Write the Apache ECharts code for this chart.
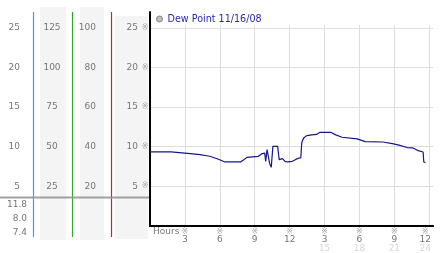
<!DOCTYPE html>
<html><head><meta charset="utf-8">
<script src="https://cdn.jsdelivr.net/npm/echarts@6/dist/echarts.min.js"></script>
<style>html,body{margin:0;padding:0;background:#fff}#c{width:442px;height:253px}</style>
</head><body><div id="c"></div>
<script>
// ---- data ----
const seriesName = 'Dew Point 11/16/08';
const hours = [0, 1.8, 1.9, 3.47, 3.6, 4.3, 5.14, 5.83, 6.44, 7.78, 8.06, 8.33, 9.31, 9.58, 9.86, 9.94, 10.06, 10.17, 10.28, 10.42, 10.56, 10.97, 11.1, 11.19, 11.39, 11.6, 11.8, 12.22, 12.5, 12.78, 12.96, 13.04, 13.2, 13.47, 13.9, 14.3, 14.58, 15.56, 15.97, 16.5, 17.8, 18.5, 20.0, 20.83, 21.4, 22.1, 22.6, 23.06, 23.47, 23.53, 23.67];
const dewPoint = [9.34, 9.34, 9.13, 9.13, 9.0, 9.0, 8.8, 8.46, 8.08, 8.08, 8.37, 8.66, 8.79, 9.09, 9.2, 8.16, 9.63, 9.7, 7.9, 7.4, 10.05, 10.05, 8.37, 8.16, 8.5, 8.16, 8.08, 8.16, 8.37, 8.57, 8.6, 10.5, 11.1, 11.4, 11.5, 11.55, 11.8, 11.8, 11.5, 11.2, 11.0, 10.65, 10.6, 10.4, 10.2, 9.9, 9.85, 9.5, 9.34, 8.08, 8.0];
const statLabels = ['11.8', '8.0', '7.4'];          // max, current, min
const xAxisName = 'Hours';
const leftScaleFactors = [1, 5, 4, 1];               // column scales: 0-25, 0-125, 0-100, 0-25

// ---- styles ----
const FONT = 'DejaVu Sans';
const LBL = '#777';
const MARK = '#a8a8a8';
const yMax = 27, xMax = 24.33;

const chart = echarts.init(document.getElementById('c'), null, {renderer: 'canvas'});

function colAxis(factor, offset, align) {
  return {
    type: 'value', position: 'left', offset: offset,
    min: 0, max: yMax * factor, interval: 5 * factor,
    axisLine: {show: false}, axisTick: {show: false}, splitLine: {show: false},
    axisLabel: {show: true, margin: 0, align: align, showMinLabel: false, showMaxLabel: false,
      color: LBL, fontSize: 9, fontFamily: FONT, padding: [0, 0, 2, 0]}
  };
}

const xRich = {
  m: {fontSize: 8, lineHeight: 7, color: MARK, fontFamily: FONT},
  a: {fontSize: 9, lineHeight: 9, color: LBL, fontFamily: FONT},
  b: {fontSize: 9, lineHeight: 9, color: '#d6d6d6', fontFamily: FONT},
  me: {fontSize: 8, lineHeight: 7, color: MARK, fontFamily: FONT, padding: [0, 8, 0, 0]},
  ae: {fontSize: 9, lineHeight: 9, color: LBL, fontFamily: FONT, padding: [0, 8, 0, 0]},
  be: {fontSize: 9, lineHeight: 9, color: '#d6d6d6', fontFamily: FONT, padding: [0, 8, 0, 0]}
};

const ySplitColors = ['#ddd', '#ddd', '#ddd', '#ddd', '#ddd', '#ddd', 'rgba(0,0,0,0)'];
const xSplitColors = ['#ddd', '#ddd', '#ddd', '#ddd', '#ddd', '#ddd', '#ddd', '#ddd', '#ddd', 'rgba(0,0,0,0)'];

const option = {
  animation: false,
  backgroundColor: '#fff',
  grid: {left: 150, right: 0, top: 12, bottom: 27, containLabel: false},
  legend: {
    data: [seriesName], left: 156, top: 14, icon: 'circle', itemWidth: 6, itemHeight: 6,
    itemStyle: {color: '#c0c0c0', borderColor: '#888', borderWidth: 1},
    textStyle: {color: '#2a2aaa', fontSize: 9.6, fontFamily: FONT}, padding: 0
  },
  xAxis: {
    type: 'value', min: 0, max: xMax, interval: 3,
    axisLine: {show: true, lineStyle: {color: '#000', width: 2}},
    axisTick: {show: false},
    splitLine: {show: true, lineStyle: {color: xSplitColors, width: 1}},
    axisLabel: {
      show: true, margin: 2, showMinLabel: false, showMaxLabel: false, rich: xRich,
      formatter: function (v) {
        if (v <= 0 || v > 24.01) return '';
        const h = v > 12 ? v - 12 : v;
        const e = v === 24 ? 'e' : '';
        return '{m' + e + '|※}\n{a' + e + '|' + h + '}\n{b' + e + '|' + (v > 12 ? v : ' ') + '}';
      }
    }
  },
  yAxis: [
    {
      type: 'value', position: 'left', min: 0, max: yMax, interval: 5,
      axisLine: {show: true, lineStyle: {color: '#000', width: 2}},
      axisTick: {show: false},
      splitLine: {show: true, lineStyle: {color: ySplitColors, width: 1}},
      axisLabel: {show: true, margin: 1.5, showMinLabel: false, showMaxLabel: false,
        formatter: () => '※', color: MARK, fontSize: 8, fontFamily: FONT}
    },
    colAxis(leftScaleFactors[3], 12, 'right'),
    colAxis(leftScaleFactors[2], 54, 'right'),
    colAxis(leftScaleFactors[1], 98, 'center'),
    colAxis(leftScaleFactors[0], 130, 'right')
  ],
  graphic: [
    {type: 'rect', z: -1, shape: {x: 40, y: 7, width: 26, height: 233}, style: {fill: '#f4f4f4'}},
    {type: 'rect', z: -1, shape: {x: 80, y: 7, width: 24, height: 233}, style: {fill: '#f4f4f4'}},
    {type: 'rect', z: -1, shape: {x: 115, y: 16, width: 33, height: 223}, style: {fill: '#f4f4f4'}},
    {type: 'line', z: 1, shape: {x1: 33.5, y1: 12, x2: 33.5, y2: 237}, style: {stroke: '#22b0dc', lineWidth: 1.2}},
    {type: 'line', z: 1, shape: {x1: 72.5, y1: 12, x2: 72.5, y2: 237}, style: {stroke: '#2ea82e', lineWidth: 1.2}},
    {type: 'line', z: 1, shape: {x1: 111.5, y1: 12, x2: 111.5, y2: 237}, style: {stroke: '#c02a2a', lineWidth: 1.2}},
    {type: 'line', z: 2, shape: {x1: 0, y1: 197.5, x2: 149, y2: 197.5}, style: {stroke: 'rgba(150,150,150,0.9)', lineWidth: 2}},
    {type: 'rect', z: 1, shape: {x: 151.5, y: 10, width: 291, height: 15}, style: {fill: '#fff'}},
    {type: 'text', z: 2, x: 27, y: 205, style: {text: statLabels[0], fill: LBL, font: '9px "DejaVu Sans"', textAlign: 'right', textVerticalAlign: 'middle'}},
    {type: 'text', z: 2, x: 27, y: 219, style: {text: statLabels[1], fill: LBL, font: '9px "DejaVu Sans"', textAlign: 'right', textVerticalAlign: 'middle'}},
    {type: 'text', z: 2, x: 27, y: 232.5, style: {text: statLabels[2], fill: LBL, font: '9px "DejaVu Sans"', textAlign: 'right', textVerticalAlign: 'middle'}},
    {type: 'text', z: 2, x: 153, y: 232, style: {text: xAxisName, fill: LBL, font: '9px "DejaVu Sans"', textAlign: 'left', textVerticalAlign: 'middle'}}
  ],
  series: [{
    name: seriesName, type: 'line', showSymbol: false, symbol: 'none',
    data: hours.map((h, i) => [h, dewPoint[i]]),
    lineStyle: {color: '#16168e', width: 1.2}, itemStyle: {color: '#16168e'}, z: 3
  }]
};
chart.setOption(option);
</script>
</body></html>
